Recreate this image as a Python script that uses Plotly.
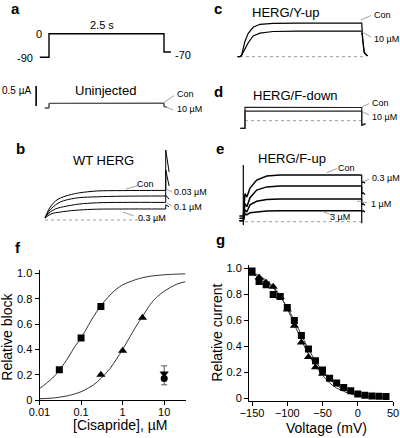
import plotly.graph_objects as go

W, H = 400, 438
FONT = "Liberation Sans, Arial, sans-serif"

# ---------------- data ----------------
# a: voltage protocol (s, mV)
prot_t = [-0.2, 0, 0, 2.5, 2.5, 2.65]
prot_mv = [-90, -90, 0, 0, -70, -70]

# a: uninjected oocyte currents (µA)
uninj_t = [-0.09, 0, 0, 2.5, 2.5, 2.56]
uninj_con = [0.0, 0.0, 0.118, 0.122, 0.035, 0.03]
uninj_cis = [0.0, 0.0, 0.112, 0.115, 0.03, 0.027]
scalebar_t = [-0.28, -0.28]
scalebar_ua = [0.05, 0.55]

# b: WT HERG (s, µA)
wt_t = [0, 0.08, 0.17, 0.27, 0.38, 0.55, 0.72, 1.07, 1.6, 2.5]
wt_con = [0.05, 0.27, 0.42, 0.52, 0.58, 0.64, 0.68, 0.725, 0.735, 0.74]
wt_003 = [0.05, 0.22, 0.33, 0.42, 0.48, 0.53, 0.56, 0.58, 0.595, 0.60]
wt_01 = [0.05, 0.17, 0.25, 0.30, 0.33, 0.37, 0.40, 0.43, 0.44, 0.44]
wt_03 = [0.05, 0.12, 0.17, 0.19, 0.21, 0.235, 0.25, 0.27, 0.275, 0.275]
wt_tail_t = [2.5, 2.5, 2.57]
wt_tail_con = [0.74, 1.75, 1.2]
wt_tail_003 = [0.60, 1.25, 0.85]
wt_tail_01 = [0.44, 0.62, 0.52]
wt_tail_03 = [0.275, 0.38, 0.33]
wt_base_t = [0, 2.5]
wt_base = [0, 0]

# c: HERG/Y-up
yup_t = [-0.05, 0, 0.035, 0.10, 0.17, 0.27, 0.41, 0.68, 1.2, 2.5, 2.52, 2.55, 2.58, 2.62]
yup_con = [0.0, 0.0, 0.04, 0.375, 0.585, 0.735, 0.81, 0.835, 0.84, 0.84, 0.45, 0.12, 0.07, 0.02]
yup_cis = [0.0, 0.0, 0.04, 0.20, 0.35, 0.52, 0.59, 0.63, 0.64, 0.64, 0.35, 0.10, 0.06, 0.02]
yup_base_t = [0, 2.6]
yup_base = [0, 0]

# d: HERG/F-down
fdn_t = [-0.1, 0, 0, 2.5, 2.5, 2.58]
fdn_con = [-0.19, -0.19, 0.335, 0.33, -0.11, -0.08]
fdn_cis = [-0.19, -0.19, 0.24, 0.24, -0.11, -0.08]
fdn_base_t = [0, 2.5]
fdn_base = [0, 0]

# e: HERG/F-up
fup_t = [-0.12, -0.036, 0, 0.04, 0.107, 0.25, 0.465, 0.75, 1.5, 2.5]
fup_con = [0.14, 0.14, 0.70, 0.62, 0.84, 1.04, 1.14, 1.17, 1.17, 1.17]
fup_03 = [0.085, 0.085, 0.45, 0.375, 0.60, 0.79, 0.87, 0.89, 0.89, 0.89]
fup_1 = [0.025, 0.025, 0.30, 0.25, 0.42, 0.51, 0.555, 0.57, 0.57, 0.57]
fup_3 = [0.025, 0.025, 0.20, 0.17, 0.225, 0.25, 0.27, 0.275, 0.275, 0.275]
fup_tail_t = [2.5, 2.5, 2.5, 2.53, 2.57]
fup_tail_con = [1.17, -0.04, 0.975, 1.0, 0.96]
fup_tail_03 = [0.89, 0.89, 0.69, 0.72, 0.68]
fup_tail_1 = [0.57, 0.57, 0.42, 0.45, 0.41]
fup_tail_3 = [0.275, 0.275, 0.25, 0.28, 0.24]
fup_spike_t = [-0.036, -0.036]
fup_spike = [-0.08, 1.42]
fup_base_t = [0, 2.5]
fup_base = [0, 0]

# f: concentration-response
conc_wt = [0.03, 0.1, 0.3]
block_wt = [0.24, 0.49, 0.74]
conc_fup = [0.3, 1, 3]
block_fup = [0.20, 0.39, 0.65]
conc_10 = [10]
block_yup = [0.21]
err_yup = [0.06]
block_fdn = [0.17]
err_fdn = [0.05]
fit_conc = [0.01, 0.02, 0.03, 0.05, 0.07, 0.1, 0.15, 0.2, 0.3, 0.5, 0.7, 1, 1.5, 2, 3, 5, 7, 10, 20, 32]
fit_wt = [0.09, 0.17, 0.235, 0.34, 0.42, 0.49, 0.59, 0.66, 0.745, 0.83, 0.875, 0.91, 0.935,
          0.95, 0.967, 0.98, 0.985, 0.99, 0.995, 0.997]
fit_fup = [0.01, 0.015, 0.022, 0.035, 0.048, 0.065, 0.095, 0.12, 0.17, 0.25, 0.32, 0.40, 0.50,
           0.57, 0.66, 0.77, 0.82, 0.86, 0.915, 0.935]
f_xticks = [0.01, 0.1, 1, 10]
f_xticktext = ["0.01", "0.1", "1", "10"]
frac_ticks = [0, 0.2, 0.4, 0.6, 0.8, 1.0]
frac_ticktext = ["0", "0.2", "0.4", "0.6", "0.8", "1.0"]

# g: voltage dependence
volt_sq = [-150, -140, -130, -120, -110, -100, -90, -80, -70, -60, -50, -40, -30, -20, -10, 0, 10, 20, 30, 40]
rel_sq = [0.98, 0.90, 0.875, 0.80, 0.785, 0.70, 0.60, 0.485, 0.38, 0.29, 0.22, 0.155, 0.12, 0.085,
          0.06, 0.035, 0.025, 0.02, 0.018, 0.015]
volt_tri = [-150, -140, -130, -120, -110, -100, -90, -80, -70, -60, -50]
rel_tri = [0.96, 0.93, 0.89, 0.86, 0.78, 0.685, 0.56, 0.43, 0.32, 0.24, 0.19]
fit_volt = [-150, -140, -130, -120, -110, -100, -90, -80, -70, -60, -50, -40, -30, -20, -10, 0, 10, 20, 30, 40]
fit_sq = [0.96, 0.93, 0.90, 0.85, 0.78, 0.70, 0.60, 0.49, 0.38, 0.29, 0.21, 0.15, 0.10, 0.07,
          0.045, 0.03, 0.02, 0.013, 0.008, 0.006]
fit_tri = [0.97, 0.945, 0.91, 0.86, 0.79, 0.69, 0.57, 0.45, 0.34, 0.25, 0.18, 0.12, 0.08, 0.055,
           0.035, 0.022, 0.015, 0.01, 0.006, 0.004]
g_xticks = [-150, -100, -50, 0, 50]

# ---------------- layout helpers ----------------
def dx(l, r):
    return [l / W, r / W]

def dy(t, b):
    return [1 - b / H, 1 - t / H]

panels = {
    1: dict(x=(37.5, 175.5), y=(31.1, 59.9), xr=[-0.25, 2.75], yr=[-100, 10]),
    2: dict(x=(32.9, 175.5), y=(82, 112), xr=[-0.35, 2.75], yr=[-0.1, 0.65]),
    3: dict(x=(40.2, 177.8), y=(148, 224), xr=[-0.1, 2.75], yr=[-0.1, 1.8]),
    4: dict(x=(235.1, 373.9), y=(18.7, 60.7), xr=[-0.1, 2.75], yr=[-0.1, 0.95]),
    5: dict(x=(238, 373.4), y=(102.7, 130.7), xr=[-0.15, 2.75], yr=[-0.25, 0.45]),
    6: dict(x=(238, 373.4), y=(161.7, 226.5), xr=[-0.15, 2.75], yr=[-0.12, 1.5]),
}

fig = go.Figure()

def ax(n):
    return ("x" if n == 1 else f"x{n}"), ("y" if n == 1 else f"y{n}")

def line(n, x, y, color="black", width=1.0, dash="solid", shape="linear"):
    xa, ya = ax(n)
    fig.add_trace(go.Scatter(x=x, y=y, mode="lines", xaxis=xa, yaxis=ya,
                             line=dict(color=color, width=width, dash=dash, shape=shape),
                             showlegend=False, hoverinfo="skip"))

# a
line(1, prot_t, prot_mv, width=1.4)
line(2, uninj_t, uninj_con, color="#333", width=1)
line(2, uninj_t, uninj_cis, color="#555", width=1)
line(2, scalebar_t, scalebar_ua, width=1.6)

# b
line(3, wt_base_t, wt_base, color="#999", dash="dot", width=1)
for cur, tail in [(wt_con, wt_tail_con), (wt_003, wt_tail_003), (wt_01, wt_tail_01), (wt_03, wt_tail_03)]:
    line(3, wt_t, cur, width=1, shape="spline")
    line(3, wt_tail_t, tail, width=1)

# c
line(4, yup_base_t, yup_base, color="#999", dash="dot", width=1)
line(4, yup_t, yup_con, width=1.2)
line(4, yup_t, yup_cis, width=1.2)

# d
line(5, fdn_base_t, fdn_base, color="#999", dash="dot", width=1)
line(5, fdn_t, fdn_con, color="#222", width=1.2)
line(5, fdn_t, fdn_cis, color="#222", width=1.2)

# e
line(6, fup_base_t, fup_base, color="#999", dash="dot", width=1)
line(6, fup_spike_t, fup_spike, width=1.2)
for cur, tail in [(fup_con, fup_tail_con), (fup_03, fup_tail_03), (fup_1, fup_tail_1), (fup_3, fup_tail_3)]:
    line(6, fup_t, cur, width=1.5)
    line(6, fup_tail_t, tail, width=1.2)

# f
line(7, fit_conc, fit_wt, color="#333", width=1, shape="spline")
line(7, fit_conc, fit_fup, color="#333", width=1, shape="spline")
fig.add_trace(go.Scatter(x=conc_wt, y=block_wt, mode="markers", xaxis="x7", yaxis="y7",
                         marker=dict(symbol="square", size=7, color="black"), showlegend=False))
fig.add_trace(go.Scatter(x=conc_fup, y=block_fup, mode="markers", xaxis="x7", yaxis="y7",
                         marker=dict(symbol="triangle-up", size=8, color="black"), showlegend=False))
fig.add_trace(go.Scatter(x=conc_10, y=block_yup, mode="markers", xaxis="x7", yaxis="y7",
                         marker=dict(symbol="triangle-down", size=8, color="black"),
                         error_y=dict(type="data", array=err_yup, arrayminus=[0], color="#555",
                                      thickness=1, width=3), showlegend=False))
fig.add_trace(go.Scatter(x=conc_10, y=block_fdn, mode="markers", xaxis="x7", yaxis="y7",
                         marker=dict(symbol="circle", size=7, color="black"),
                         error_y=dict(type="data", array=[0], arrayminus=err_fdn, color="#555",
                                      thickness=1, width=3), showlegend=False))

# g
line(8, fit_volt, fit_sq, color="#333", width=1, shape="spline")
line(8, fit_volt, fit_tri, color="#333", width=1, shape="spline")
fig.add_trace(go.Scatter(x=volt_sq, y=rel_sq, mode="markers", xaxis="x8", yaxis="y8",
                         marker=dict(symbol="square", size=7, color="black"), showlegend=False))
fig.add_trace(go.Scatter(x=volt_tri, y=rel_tri, mode="markers", xaxis="x8", yaxis="y8",
                         marker=dict(symbol="triangle-up", size=8, color="black"), showlegend=False))

layout = dict(width=W, height=H, margin=dict(l=0, r=0, t=0, b=0, pad=0, autoexpand=False),
              paper_bgcolor="white", plot_bgcolor="white", hovermode=False,
              font=dict(family=FONT, color="black", size=11))

for n, p in panels.items():
    xk = "xaxis" if n == 1 else f"xaxis{n}"
    yk = "yaxis" if n == 1 else f"yaxis{n}"
    xa, ya = ax(n)
    layout[xk] = dict(domain=dx(*p["x"]), range=p["xr"], visible=False, anchor=ya, automargin=False)
    layout[yk] = dict(domain=dy(*p["y"]), range=p["yr"], visible=False, anchor=xa, automargin=False)

axis_style = dict(showline=True, linecolor="black", linewidth=1, ticks="outside", ticklen=4,
                  tickwidth=1, tickcolor="black", showgrid=False, zeroline=False, automargin=False,
                  tickfont=dict(family=FONT, size=11, color="black"))
layout["xaxis7"] = dict(axis_style, domain=dx(39.5, 185.8), type="log", range=[-2, 1.52],
                        tickvals=f_xticks, ticktext=f_xticktext, anchor="y7", ticklabelstandoff=-2)
layout["yaxis7"] = dict(axis_style, domain=dy(269.7, 400), range=[0, 1.03],
                        tickvals=frac_ticks, ticktext=frac_ticktext, anchor="x7")
layout["xaxis8"] = dict(axis_style, domain=dx(249, 393.4), range=[-154.3, 50.5],
                        tickvals=g_xticks, anchor="y8", ticklabelstandoff=-2)
layout["yaxis8"] = dict(axis_style, domain=dy(264.6, 400.7), range=[-0.017, 1.03],
                        tickvals=frac_ticks, ticktext=frac_ticktext, anchor="x8")

annots = []

def txt(text, px, py, size=10, xa="center", bold=False, angle=0):
    if bold:
        text = f"<b>{text}</b>"
    annots.append(dict(text=text, x=px / W, y=1 - py / H, xref="paper", yref="paper",
                       xanchor=xa, yanchor="middle", showarrow=False, textangle=angle,
                       font=dict(family=FONT, size=size, color="black")))

# panel letters
for lab, px, py in [("a", 15, 8.5), ("b", 20, 149), ("c", 218, 8.5), ("d", 218, 91),
                    ("e", 220, 149), ("f", 18, 247), ("g", 220, 239)]:
    txt(lab, px, py, size=15, bold=True)

# panel a texts
txt("0", 44, 34, size=11, xa="right")
txt("-90", 35, 57.5, size=11, xa="right")
txt("-70", 173, 55.5, size=11, xa="left")
txt("2.5 s", 101.7, 25, size=11)
txt("0.5 µA", 0, 90.7, size=10, xa="left")
txt("Uninjected", 105, 90.7, size=13)
txt("Con", 175, 94.5, size=9, xa="left")
txt("10 µM", 175, 108.5, size=9, xa="left")

# panel b
txt("WT HERG", 103, 160, size=13)
txt("Con", 145, 184, size=9)
txt("0.03 µM", 172, 192, size=9, xa="left")
txt("0.1 µM", 172, 207.5, size=9, xa="left")
txt("0.3 µM", 152, 218.5, size=9)

# panel c
txt("HERG/Y-up", 285, 13, size=13)
txt("Con", 372, 15, size=9, xa="left")
txt("10 µM", 372, 39.5, size=9, xa="left")

# panel d
txt("HERG/F-down", 295, 95, size=13)
txt("Con", 370, 103, size=9, xa="left")
txt("10 µM", 370, 117, size=9, xa="left")

# panel e
txt("HERG/F-up", 292, 158, size=13)
txt("Con", 346.7, 167.7, size=9)
txt("0.3 µM", 370, 178.5, size=9, xa="left")
txt("1 µM", 369, 203.5, size=9, xa="left")
txt("3 µM", 340, 216.5, size=9)

# axis titles
txt("Relative block", 7, 336.7, size=14, angle=-90)
txt("[Cisapride], µM", 120, 425, size=14)
txt("Relative current", 216.7, 333, size=14, angle=-90)
txt("Voltage (mV)", 326.7, 428, size=14)

layout["annotations"] = annots

# leader lines for trace labels
leaders = [
    (163.5, 103, 174, 95.5), (165, 106.5, 173, 110),
    (126, 189, 138, 185.5), (166.7, 189.3, 171.7, 191.7), (166.7, 202.7, 171.7, 206), (123, 212, 134, 216),
    (361, 20, 371, 15.5), (361, 31.5, 371, 37),
    (362, 107, 369, 103.5), (362, 111.5, 369, 115),
    (326.7, 172.7, 337, 168.5), (363, 181.7, 369, 179.3), (357, 201, 367, 202.7), (323, 211.7, 331.7, 215),
]
layout["shapes"] = [dict(type="line", xref="paper", yref="paper", x0=a / W, y0=1 - b / H,
                         x1=c / W, y1=1 - d / H, line=dict(color="#888", width=0.8))
                    for a, b, c, d in leaders]

fig.update_layout(**layout)
fig.write_html("out.html", config={"displayModeBar": False, "staticPlot": True},
               post_script="document.body.style.margin='0px';document.body.style.overflow='hidden';")
